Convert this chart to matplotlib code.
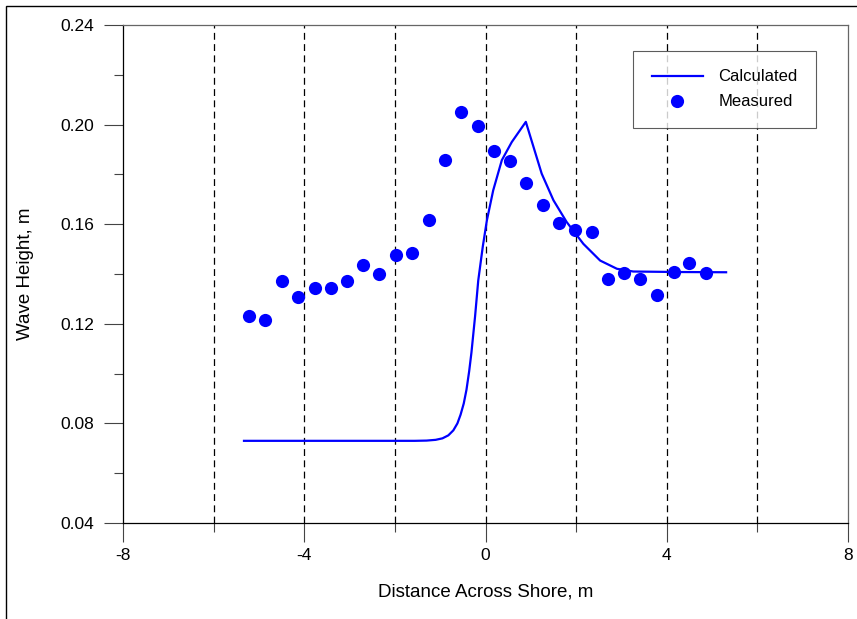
import numpy as np
import matplotlib.pyplot as plt
from matplotlib.patches import Rectangle

plt.rcParams['font.family'] = ['Liberation Sans', 'DejaVu Sans']

# measured wave heights
meas_x = [-5.21, -4.86, -4.49, -4.13, -3.77, -3.41, -3.05, -2.70, -2.34, -1.98,
          -1.62, -1.25, -0.89, -0.53, -0.17, 0.19, 0.55, 0.90, 1.26, 1.62,
          1.98, 2.34, 2.70, 3.06, 3.42, 3.79, 4.15, 4.50, 4.86]
meas_h = [0.1233, 0.1214, 0.1371, 0.1307, 0.1342, 0.1342, 0.1373, 0.1436, 0.1401, 0.1478,
          0.1485, 0.1617, 0.1857, 0.2049, 0.1995, 0.1892, 0.1853, 0.1765, 0.1676, 0.1606,
          0.1576, 0.1567, 0.1381, 0.1405, 0.1381, 0.1316, 0.1410, 0.1445, 0.1406]

# calculated profile
calc_x = [-5.33, -3.0, -1.56, -1.30, -1.10, -0.95, -0.82, -0.71, -0.62, -0.55,
          -0.48, -0.42, -0.36, -0.31, -0.23, -0.16, -0.06, 0.03, 0.17, 0.36,
          0.58, 0.89, 1.06, 1.24, 1.50, 1.79, 2.16, 2.53, 2.90, 3.26,
          4.2, 5.31]
calc_h = [0.0730, 0.0730, 0.0730, 0.0731, 0.0734, 0.0740, 0.0752, 0.0772, 0.0800, 0.0835,
          0.0880, 0.0935, 0.1010, 0.1085, 0.1230, 0.1374, 0.1510, 0.1615, 0.1736, 0.1857,
          0.1930, 0.2011, 0.1910, 0.1803, 0.1696, 0.1609, 0.1521, 0.1454, 0.1421, 0.1410,
          0.1408, 0.1407]

fig = plt.figure(figsize=(8.57, 6.19), dpi=100)
ax = fig.add_axes([123/857, 1 - 523/619, 725/857, 498/619])

# figure frame (only left/top visible in original)
fig.patches.append(Rectangle((6/857, -0.1), 1.2, 1 - 6/619 + 0.1, transform=fig.transFigure,
                             fill=False, edgecolor='black', linewidth=1.0, clip_on=False))

for xv in [-6, -4, -2, 0, 2, 4, 6]:
    ax.axvline(xv, color='black', linewidth=0.9, linestyle=(0, (5.5, 3.5)), zorder=1)

ax.plot(calc_x, calc_h, color='#0000ff', linewidth=1.6, label='Calculated', zorder=3)
ax.plot(meas_x, meas_h, 'o', color='#0000ff', markersize=9.5, markeredgewidth=0,
        label='Measured', zorder=4)

ax.set_xlim(-8, 8)
ax.set_ylim(0.04, 0.24)
ax.set_xticks([-8, -4, 0, 4, 8])
ax.set_xticks([-6, -2, 2, 6], minor=True)
ax.set_yticks([0.04, 0.08, 0.12, 0.16, 0.20, 0.24])
ax.set_yticks([0.06, 0.10, 0.14, 0.18, 0.22], minor=True)
ax.set_xticklabels(['-8', '-4', '0', '4', '8'])
ax.set_yticklabels(['0.04', '0.08', '0.12', '0.16', '0.20', '0.24'])

ax.tick_params(axis='both', which='major', direction='out', length=13.7, width=0.8,
               color='#444444', labelsize=12.5)
ax.tick_params(axis='both', which='minor', direction='out', length=6.5, width=0.8,
               color='#444444')
ax.tick_params(axis='x', which='major', pad=4)
ax.tick_params(axis='y', which='major', pad=7)

for s in ['left', 'bottom']:
    ax.spines[s].set_color('black')
    ax.spines[s].set_linewidth(0.9)
for s in ['top', 'right']:
    ax.spines[s].set_color('#666666')
    ax.spines[s].set_linewidth(0.9)

ax.set_xlabel('Distance Across Shore, m', fontsize=13.5, labelpad=15)
ax.set_ylabel('Wave Height, m', fontsize=13.5, labelpad=19)

leg = ax.legend(loc='upper right', bbox_to_anchor=((816 - 123) / 725, 1 - 26/498),
                bbox_transform=ax.transAxes, fontsize=12, frameon=True, fancybox=False,
                edgecolor='#333333', borderpad=1.1, handlelength=3.05, labelspacing=0.6,
                handletextpad=0.95, borderaxespad=0)
leg.get_frame().set_linewidth(0.8)

fig.savefig('out.png', dpi=100)
